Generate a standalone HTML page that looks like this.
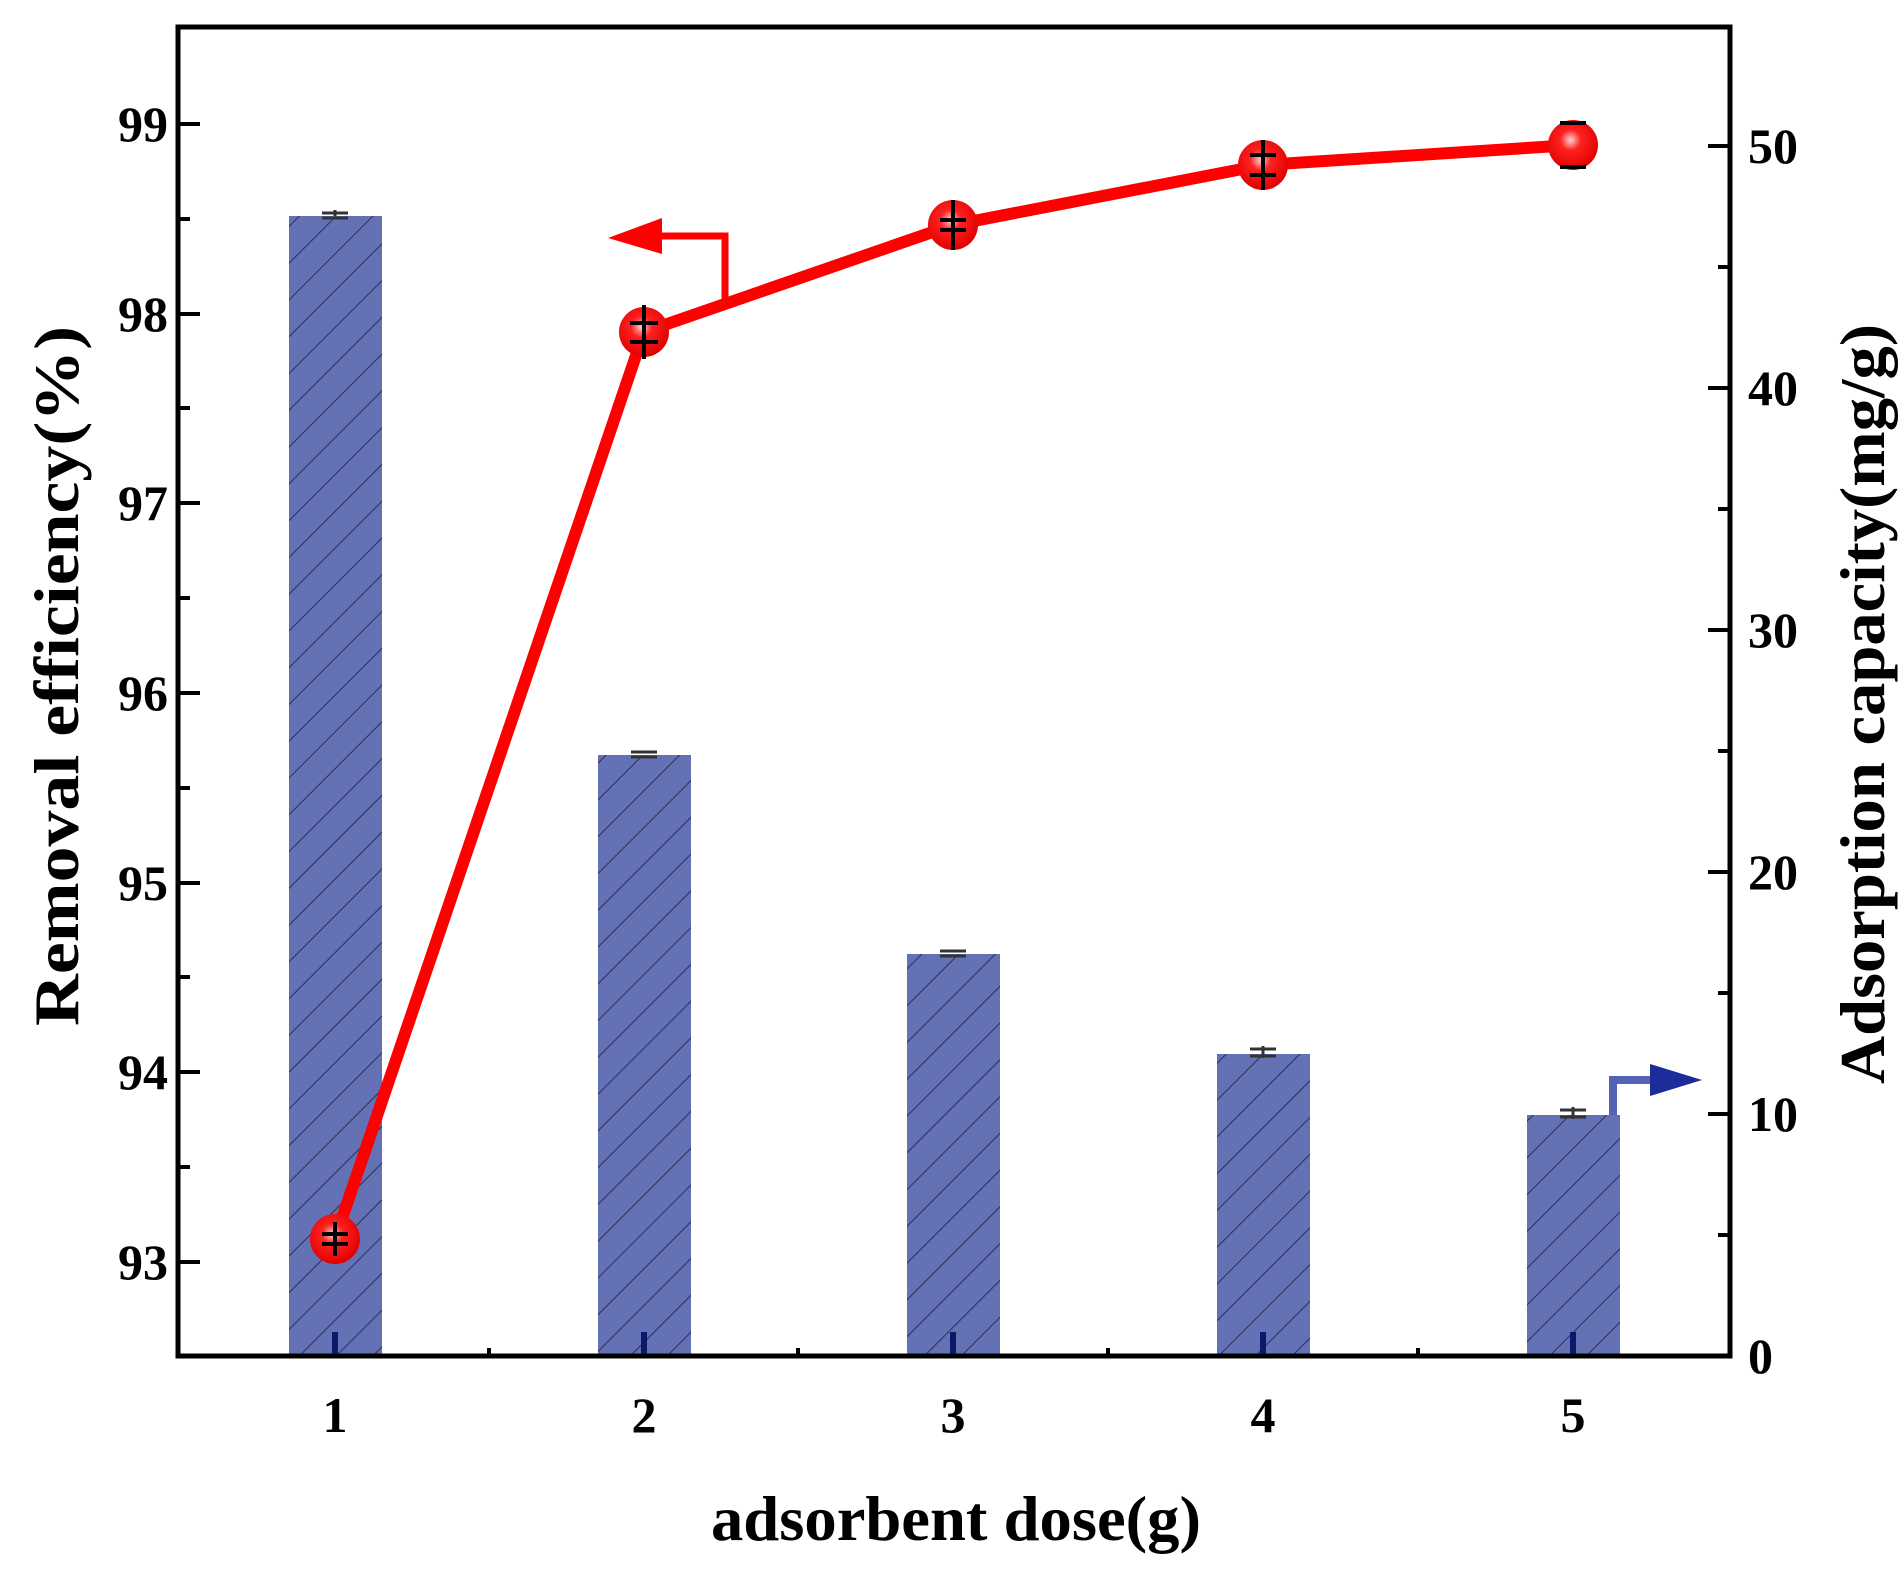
<!DOCTYPE html>
<html><head><style>body{margin:0;background:#fff}svg{display:block}text{font-family:"Liberation Serif",serif;font-weight:bold;fill:#000}</style></head>
<body>
<svg width="1904" height="1584" viewBox="0 0 1904 1584" xmlns="http://www.w3.org/2000/svg">
<defs>
<pattern id="h" patternUnits="userSpaceOnUse" width="26" height="26" patternTransform="rotate(45)">
<rect width="26" height="26" fill="#6471b4"/><line x1="0" y1="0" x2="0" y2="26" stroke="#2a2f55" stroke-width="2"/></pattern>
<radialGradient id="m" cx="0.45" cy="0.4" r="0.6"><stop offset="0" stop-color="#ffd0d0"/><stop offset="0.35" stop-color="#ff2020"/><stop offset="1" stop-color="#e00000"/></radialGradient>
</defs>
<g fill="url(#h)">
<rect x="289" y="216" width="93" height="1140"/>
<rect x="598" y="755" width="93" height="601"/>
<rect x="907" y="954" width="93" height="402"/>
<rect x="1217" y="1054" width="93" height="302"/>
<rect x="1527" y="1115" width="93" height="241"/>
</g>
<g stroke="#333" stroke-width="3">
<path d="M322 213h26M335 210v6M322 218h26"/>
<path d="M631 752h26M631 757h26"/>
<path d="M940 951h26M940 956h26"/>
<path d="M1250 1049h26M1263 1046v12M1250 1056h26"/>
<path d="M1560 1110h26M1573 1107v12M1560 1117h26"/>
</g>
<g stroke="#0a1a6a" stroke-width="6"><path d="M335 1332v24M644 1332v24M953 1332v24M1263 1332v24M1573 1332v24"/></g>
<rect x="178" y="27" width="1552" height="1329" fill="none" stroke="#000" stroke-width="5"/>
<g stroke="#000" stroke-width="4">
<path d="M178 124h22M178 314h22M178 503h22M178 693h22M178 883h22M178 1072h22M178 1262h22"/>
<path d="M178 219h12M178 408h12M178 598h12M178 788h12M178 977h12M178 1167h12"/>
<path d="M1730 146h-22M1730 388h-22M1730 630h-22M1730 872h-22M1730 1114h-22"/>
<path d="M1730 267h-12M1730 509h-12M1730 751h-12M1730 993h-12M1730 1235h-12"/>
<path d="M489 1356v-8M798 1356v-8M1108 1356v-8M1418 1356v-8"/>
</g>
<g font-size="50" text-anchor="end">
<text x="168" y="141">99</text><text x="168" y="331">98</text><text x="168" y="520">97</text><text x="168" y="710">96</text><text x="168" y="900">95</text><text x="168" y="1089">94</text><text x="168" y="1279">93</text>
</g>
<g font-size="50" text-anchor="start">
<text x="1748" y="163">50</text><text x="1748" y="405">40</text><text x="1748" y="647">30</text><text x="1748" y="889">20</text><text x="1748" y="1131">10</text><text x="1748" y="1373">0</text>
</g>
<g font-size="50" text-anchor="middle">
<text x="335" y="1432">1</text><text x="644" y="1432">2</text><text x="953" y="1432">3</text><text x="1263" y="1432">4</text><text x="1573" y="1432">5</text>
</g>
<text x="956" y="1540" font-size="64" text-anchor="middle" textLength="490" lengthAdjust="spacingAndGlyphs">adsorbent dose(g)</text>
<text transform="translate(78,676) rotate(-90)" font-size="64" text-anchor="middle" textLength="700" lengthAdjust="spacingAndGlyphs">Removal efficiency(%)</text>
<text transform="translate(1884,704) rotate(-90)" font-size="64" text-anchor="middle" textLength="760" lengthAdjust="spacingAndGlyphs">Adsorption capacity(mg/g)</text>
<path d="M1613 1115V1080H1655" fill="none" stroke="#5563b5" stroke-width="8"/>
<path d="M1650 1064L1702 1080L1650 1096Z" fill="#1c2c9a"/>
<path d="M725 300V236H660" fill="none" stroke="#ff0000" stroke-width="7"/>
<path d="M662 218L608 238L662 254Z" fill="#ff0000"/>
<polyline points="335,1239 644,332 953,225 1263,165 1573,145" fill="none" stroke="#ff0000" stroke-width="12" stroke-linejoin="round"/>
<g>
<circle cx="335" cy="1239" r="25" fill="url(#m)"/>
<circle cx="644" cy="332" r="25" fill="url(#m)"/>
<circle cx="953" cy="225" r="25" fill="url(#m)"/>
<circle cx="1263" cy="165" r="25" fill="url(#m)"/>
<circle cx="1573" cy="145" r="25" fill="url(#m)"/>
</g>
<g stroke="#000" stroke-width="4">
<path d="M335 1222v34M322 1234h26M322 1244h26"/>
<path d="M644 305v54M630 323h28M630 342h28"/>
<path d="M953 200v50M940 220h26M940 230h26"/>
<path d="M1263 140v50M1250 155h26M1250 175h26"/>
<path d="M1560 123h26M1560 167h26"/>
</g>
</svg>
</body></html>
